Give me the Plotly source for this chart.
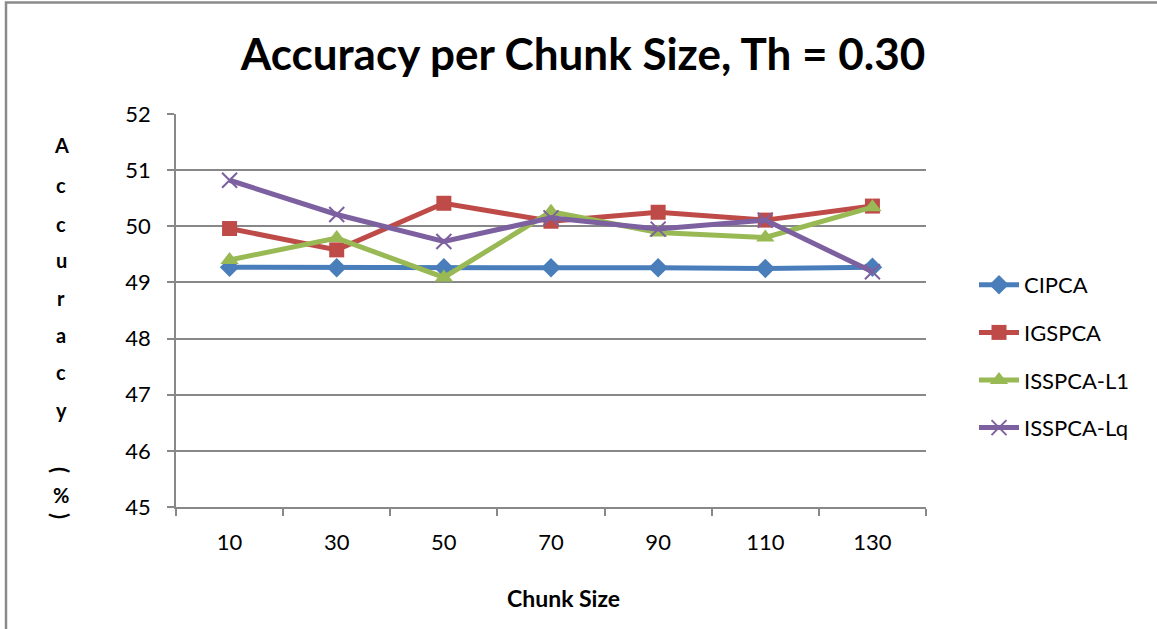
import plotly.graph_objects as go

# Chunk sizes on the category axis
chunk_sizes = ["10", "30", "50", "70", "90", "110", "130"]

# Accuracy (%) per method
cipca = [49.27, 49.26, 49.26, 49.26, 49.26, 49.25, 49.27]
igspca = [49.96, 49.58, 50.41, 50.09, 50.25, 50.11, 50.36]
isspca_l1 = [49.40, 49.79, 49.09, 50.26, 49.89, 49.80, 50.34]
isspca_lq = [50.82, 50.21, 49.73, 50.15, 49.95, 50.11, 49.19]

y_ticks = [45, 46, 47, 48, 49, 50, 51, 52]

FONT = "Lato, 'Open Sans', sans-serif"
GRID = "#888888"

series = [
    ("CIPCA", cipca, "#4a7ebb", dict(symbol="diamond", size=15)),
    ("IGSPCA", igspca, "#be4b48", dict(symbol="square", size=15)),
    ("ISSPCA-L1", isspca_l1, "#98b954", dict(symbol="triangle-up", size=16)),
    ("ISSPCA-Lq", isspca_lq, "#7d60a0",
     dict(symbol="x-thin", size=15, line=dict(width=2, color="#7d60a0"))),
]

fig = go.Figure()
for name, vals, color, marker in series:
    fig.add_trace(go.Scatter(
        x=chunk_sizes, y=vals, name=name, mode="lines+markers",
        line=dict(color=color, width=5),
        marker=dict(color=color, **marker),
        legendgroup=name,
    ))

# plot area in pixels: x 176..926, y 114..507
L, R, T, B = 176, 926, 114, 507
W, H = R - L, B - T


def px_x(x):
    return (x - L) / W


def px_y(y):
    return (B - y) / H


BOLD = dict(family=FONT, size=20, color="black", weight="bold")

annotations = []
# stacked vertical axis title
letters = [("A", 145), ("c", 185), ("c", 224), ("u", 260), ("r", 298),
           ("a", 335), ("c", 372), ("y", 410), ("%", 495)]
for ch, yy in letters:
    annotations.append(dict(
        text=ch, x=px_x(61), y=px_y(yy), xref="paper", yref="paper",
        showarrow=False, xanchor="center", yanchor="middle", font=BOLD,
    ))
# parentheses turned sideways in the stacked title
for ch, yy in [("(", 470), (")", 516)]:
    annotations.append(dict(
        text=ch, x=px_x(61), y=px_y(yy), xref="paper", yref="paper",
        showarrow=False, xanchor="center", yanchor="middle", textangle=90,
        font=dict(family=FONT, size=22, color="black", weight="bold"),
    ))
# horizontal axis title
annotations.append(dict(
    text="Chunk Size", x=px_x(563), y=px_y(598), xref="paper", yref="paper",
    showarrow=False, xanchor="center", yanchor="middle",
    font=dict(family=FONT, size=23, color="black", weight="bold"),
))

fig.update_layout(
    width=1157, height=629,
    margin=dict(l=L, r=1157 - R, t=T, b=629 - B),
    paper_bgcolor="white", plot_bgcolor="white",
    font=dict(family=FONT, size=20, color="black"),
    title=dict(
        text="<b>Accuracy per Chunk Size, Th = 0.30</b>",
        x=583 / 1157, xref="container", xanchor="center",
        y=1 - 55 / 629, yref="container", yanchor="middle",
        font=dict(family=FONT, size=44, color="black"),
    ),
    xaxis=dict(
        type="category", categoryorder="array", categoryarray=chunk_sizes,
        range=[-0.5, len(chunk_sizes) - 0.5],
        showline=True, linecolor=GRID, linewidth=1.5,
        ticks="outside", tickson="boundaries", ticklen=7, tickcolor=GRID,
        tickwidth=1.5, showgrid=False, zeroline=False,
        tickfont=dict(family=FONT, size=22), ticklabelstandoff=15,
    ),
    yaxis=dict(
        range=[45, 52], tickvals=y_ticks,
        showline=True, linecolor=GRID, linewidth=1.5,
        ticks="outside", ticklen=7, tickcolor=GRID, tickwidth=1.5,
        showgrid=True, gridcolor=GRID, gridwidth=1.5, zeroline=False,
        tickfont=dict(family=FONT, size=22), ticklabelstandoff=12,
    ),
    legend=dict(
        x=px_x(974), y=px_y(264), xanchor="left", yanchor="top",
        font=dict(family=FONT, size=22), tracegroupgap=16,
        bgcolor="rgba(0,0,0,0)", itemwidth=40,
    ),
    annotations=annotations,
    shapes=[dict(
        type="rect", xref="paper", yref="paper",
        x0=px_x(6), x1=px_x(1170), y0=px_y(640), y1=px_y(2.5),
        line=dict(color="#8a8a8a", width=2.5), layer="below",
    )],
)

fig.write_html("out.html")
